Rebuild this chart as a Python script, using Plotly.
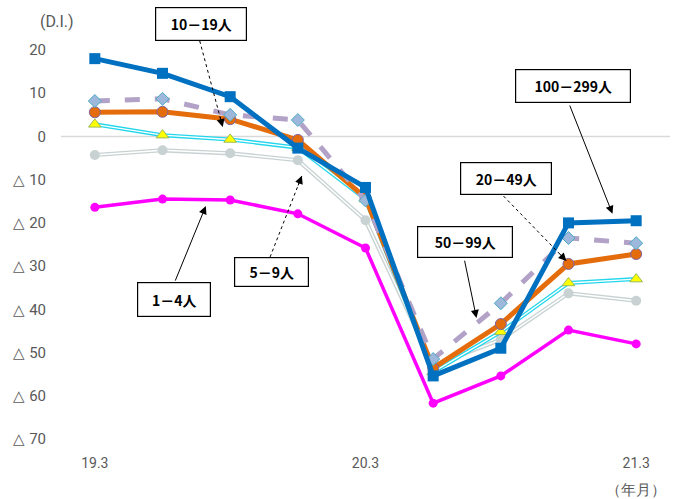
import plotly.graph_objects as go

# Survey periods (year.month) and diffusion index by firm size
periods = ["19.3", "19.6", "19.9", "19.12", "20.3", "20.6", "20.9", "20.12", "21.3"]
di_100_299 = [18.0, 14.6, 9.2, -2.7, -11.8, -55.4, -49.0, -20.0, -19.5]
di_50_99 = [8.2, 8.7, 5.0, 3.8, -14.8, -51.5, -38.6, -23.5, -24.7]
di_20_49 = [5.6, 5.7, 4.0, -0.8, -14.2, -53.6, -43.4, -29.5, -27.2]
di_10_19 = [2.8, 0.3, -0.7, -2.6, -14.5, -54.5, -45.2, -33.9, -33.0]
di_5_9 = [-4.3, -3.2, -3.9, -5.5, -19.4, -53.0, -47.0, -36.3, -38.0]
di_1_4 = [-16.4, -14.5, -14.7, -17.9, -25.8, -61.7, -55.4, -44.8, -48.0]

y_tick_vals = [20, 10, 0, -10, -20, -30, -40, -50, -60, -70]
y_tick_text = ["20", "10", "0", "△ 10", "△ 20", "△ 30", "△ 40", "△ 50", "△ 60", "△ 70"]
x_tick_text = ["19.3", "20.3", "21.3"]

xi = list(range(len(periods)))
fig = go.Figure()


def double_line(y, color, width, marker):
    # outer coloured stroke, thin white core, then markers
    fig.add_trace(go.Scatter(x=xi, y=y, mode="lines",
                             line=dict(color=color, width=width), hoverinfo="skip"))
    fig.add_trace(go.Scatter(x=xi, y=y, mode="lines",
                             line=dict(color="white", width=width * 0.35), hoverinfo="skip"))
    fig.add_trace(go.Scatter(x=xi, y=y, mode="markers", marker=marker))


double_line(di_5_9, "#C8D2D2", 4.2,
            dict(symbol="circle", size=10, color="#C8D2D2"))
double_line(di_10_19, "#22D6EC", 4.0,
            dict(symbol="triangle-up", size=11, color="#FFFF00",
                 line=dict(color="#9BBB59", width=1)))

fig.add_trace(go.Scatter(x=xi, y=di_1_4, mode="lines+markers",
                         line=dict(color="#FF00FF", width=3.5),
                         marker=dict(symbol="circle", size=9, color="#FF00FF")))
fig.add_trace(go.Scatter(x=xi, y=di_20_49, mode="lines+markers",
                         line=dict(color="#E46C0A", width=5),
                         marker=dict(symbol="circle", size=11, color="#E46C0A",
                                     line=dict(color="#8064A2", width=1))))
fig.add_trace(go.Scatter(x=xi, y=di_50_99, mode="lines",
                         line=dict(color="#B3A2C7", width=5, dash="dash")))
fig.add_trace(go.Scatter(x=xi, y=di_50_99, mode="markers",
                         marker=dict(symbol="diamond", size=10, color="#9DB8DA",
                                     line=dict(color="#4BACC6", width=1))))
fig.add_trace(go.Scatter(x=xi, y=di_100_299, mode="lines+markers",
                         line=dict(color="#0070C0", width=5),
                         marker=dict(symbol="square", size=11, color="#0070C0")))

# zero line
fig.add_hline(y=0, line=dict(color="#D9D9D9", width=1.5), layer="below")

# plot-area geometry used to place the label boxes in paper space
X0, X1, Y_TOP, Y_BOT = -0.5, 8.5, 20.0, -70.0


def px(x):
    return (x - X0) / (X1 - X0)


def py(y):
    return (y - Y_BOT) / (Y_TOP - Y_BOT)


# label boxes: text, box centre (x, y), box size (w, h), arrow tail, arrow tip, dotted
labels = [
    ("10－19人", (1.567, 26.0), (88, 30), (1.55, 22.1), (1.89, 2.2), True),
    ("100－299人", (7.06, 11.7), (112, 30), (7.01, 7.5), (7.65, -17.9), False),
    ("20－49人", (6.07, -9.7), (88, 29), (6.04, -13.8), (6.97, -28.8), True),
    ("50－99人", (5.47, -24.4), (92, 28), (5.46, -28.4), (5.64, -42.0), False),
    ("5－9人", (2.61, -31.4), (71, 26), (2.59, -27.9), (3.06, -9.1), True),
    ("1－4人", (1.17, -37.7), (70, 31), (1.18, -33.7), (1.64, -16.1), False),
]
PX_X, PX_Y = 67.6, 4.32
label_font = dict(family="Noto Sans CJK JP", size=14, color="black")
for text, (cx, cy), (w, h), (tx, ty), (hx, hy), dotted in labels:
    if dotted:
        fig.add_shape(type="line", x0=px(tx), y0=py(ty), x1=px(hx), y1=py(hy),
                      xref="paper", yref="paper",
                      line=dict(color="black", width=1, dash="dot"))
        dx, dy = (tx - hx) * PX_X, -(ty - hy) * PX_Y
        n = (dx * dx + dy * dy) ** 0.5
        fig.add_annotation(x=px(hx), y=py(hy), xref="paper", yref="paper", text="",
                           showarrow=True, ax=dx / n * 12, ay=dy / n * 12,
                           arrowhead=2, arrowsize=1.6, arrowwidth=1,
                           arrowcolor="black", standoff=0)
    else:
        fig.add_annotation(x=hx, y=hy, xref="x", yref="y", text="", showarrow=True,
                           ax=tx, ay=ty, axref="x", ayref="y", arrowhead=2,
                           arrowsize=1.6, arrowwidth=1, arrowcolor="black", standoff=0)
    fig.add_annotation(x=px(cx), y=py(cy), xref="paper", yref="paper",
                       text="<b>%s</b>" % text,
                       showarrow=False, font=label_font, width=w, height=h,
                       bgcolor="white", bordercolor="black", borderwidth=1.2,
                       borderpad=1, align="center", valign="middle",
                       xanchor="center", yanchor="middle")

axis_font = dict(family="Liberation Sans Narrow, Roboto, sans-serif", size=14, color="#595959")
# unit caption above the value axis
fig.add_annotation(x=0.0, y=1.072, xref="paper", yref="paper", text="(D.I.)",
                   showarrow=False, font=dict(axis_font, size=16),
                   xanchor="left", yanchor="middle", xshift=-23)
fig.add_annotation(x=px(8), y=-0.13, xref="paper", yref="paper", text="（年月）",
                   showarrow=False, font=dict(axis_font, size=15),
                   xanchor="center", yanchor="middle")

fig.update_layout(
    width=673, height=499,
    margin=dict(l=61, r=3, t=50, b=60),
    paper_bgcolor="white", plot_bgcolor="white",
    showlegend=False,
    xaxis=dict(range=[X0, X1], tickvals=[0, 4, 8], ticktext=x_tick_text,
               showgrid=False, zeroline=False, showline=False, ticks="",
               tickfont=axis_font, ticklabelstandoff=14),
    yaxis=dict(range=[Y_BOT, Y_TOP], tickvals=y_tick_vals, ticktext=y_tick_text,
               showgrid=False, zeroline=False, showline=False, ticks="",
               tickfont=dict(axis_font, size=15), ticklabelstandoff=14),
)

fig.write_html("out.html")
